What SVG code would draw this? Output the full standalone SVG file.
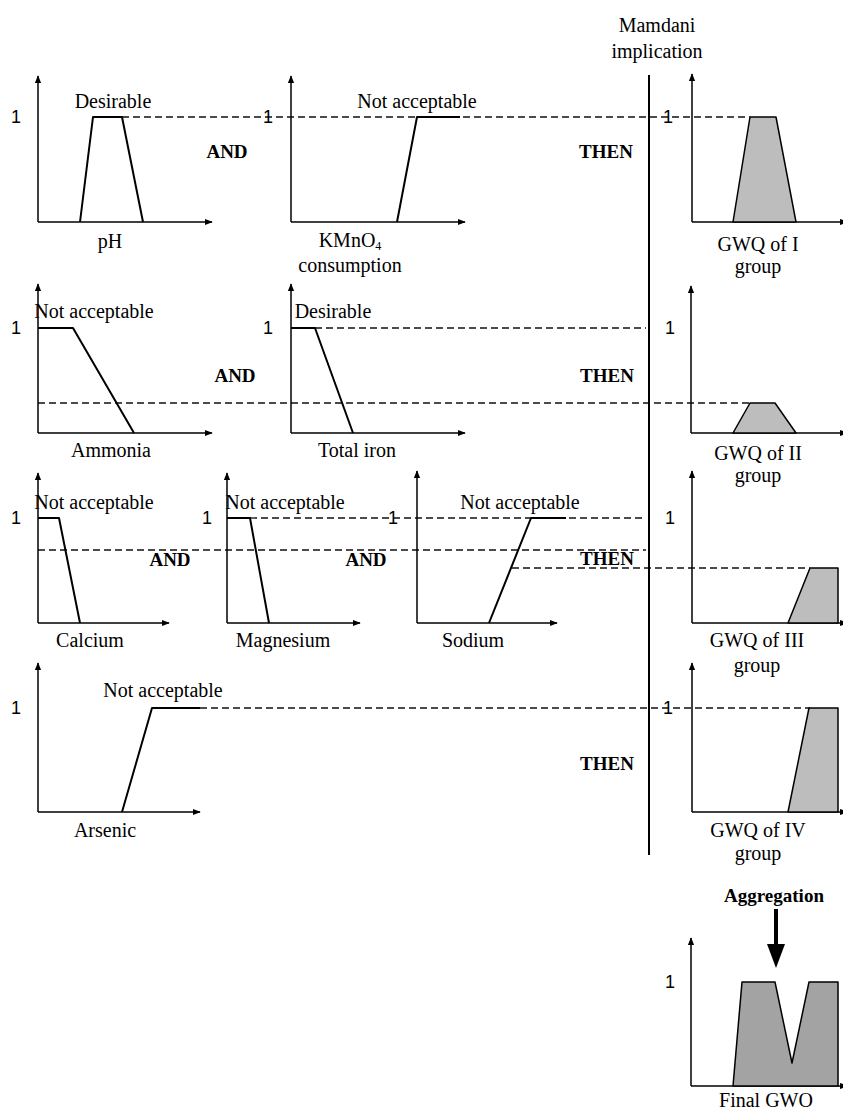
<svg xmlns="http://www.w3.org/2000/svg" width="843" height="1111" viewBox="0 0 843 1111">
<defs>
<marker id="ah" viewBox="0 0 10 10" refX="9" refY="5" markerWidth="8" markerHeight="8" markerUnits="userSpaceOnUse" orient="auto"><path d="M0,1 L10,5 L0,9 Z" fill="#000"/></marker>
</defs>
<style>
.ax{stroke:#000;stroke-width:1.5;fill:none;marker-end:url(#ah)}
.mf{stroke:#000;stroke-width:2;fill:none;stroke-linejoin:round}
.out{stroke:#000;stroke-width:1.5;fill:#bdbdbd;stroke-linejoin:round}
.fin{stroke:#000;stroke-width:1.5;fill:#a3a3a3;stroke-linejoin:round}
.dash{stroke:#111;stroke-width:1.3;stroke-dasharray:7,4;fill:none}
.t{font-family:"Liberation Serif","Times New Roman",serif;font-size:20px;fill:#000;text-anchor:middle}
.b{font-family:"Liberation Serif","Times New Roman",serif;font-size:19px;font-weight:bold;fill:#000;text-anchor:middle}
.one{font-family:"Liberation Sans",Arial,sans-serif;font-size:18px;fill:#000;text-anchor:middle}
</style>
<rect width="843" height="1111" fill="#fff"/>

<g id="connectors">
<line class="dash" x1="122" y1="117" x2="750" y2="117"/>
<line class="dash" x1="315" y1="328" x2="646" y2="328"/>
<line class="dash" x1="38" y1="403" x2="750" y2="403"/>
<line class="dash" x1="250" y1="518" x2="646" y2="518"/>
<line class="dash" x1="38" y1="550" x2="646" y2="550"/>
<line class="dash" x1="512" y1="568" x2="810" y2="568"/>
<line class="dash" x1="200" y1="708" x2="810" y2="708"/>
<line x1="649" y1="75" x2="649" y2="855" stroke="#000" stroke-width="2"/>
<path d="M774,909 L774,944 L767,944 L776,968 L785,944 L778,944 L778,909 Z" fill="#000"/>
</g>

<g id="header">
<text class="t" x="657" y="32">Mamdani</text>
<text class="t" x="657" y="58">implication</text>
</g>

<g id="ph">
<line class="ax" x1="38" y1="222" x2="38" y2="76"/>
<line class="ax" x1="38" y1="222" x2="212" y2="222"/>
<polyline class="mf" points="80,222 93,117 122,117 143,222"/>
<text class="one" x="16" y="123">1</text>
<text class="t" x="113" y="108">Desirable</text>
<text class="t" x="110" y="248">pH</text>
</g>
<text class="b" x="227" y="158">AND</text>

<g id="kmno4">
<line class="ax" x1="291" y1="222" x2="291" y2="76"/>
<line class="ax" x1="291" y1="222" x2="465" y2="222"/>
<polyline class="mf" points="397,222 417,117 460,117"/>
<text class="one" x="268" y="123">1</text>
<text class="t" x="417" y="108">Not acceptable</text>
<text class="t" x="350" y="247">KMnO<tspan font-size="12" dy="3">4</tspan></text>
<text class="t" x="350" y="272">consumption</text>
</g>
<text class="b" x="606" y="158">THEN</text>

<g id="gwq1">
<line class="ax" x1="692" y1="222" x2="692" y2="74"/>
<line class="ax" x1="692" y1="222" x2="847" y2="222"/>
<polygon class="out" points="733,222 750,117 776,117 796,222"/>
<text class="one" x="668" y="123">1</text>
<text class="t" x="758" y="251">GWQ of I</text>
<text class="t" x="758" y="273">group</text>
</g>

<g id="ammonia">
<line class="ax" x1="38" y1="433" x2="38" y2="284"/>
<line class="ax" x1="38" y1="433" x2="212" y2="433"/>
<polyline class="mf" points="38,328 73,328 134,433"/>
<text class="one" x="16" y="334">1</text>
<text class="t" x="94" y="318">Not acceptable</text>
<text class="t" x="111" y="457">Ammonia</text>
</g>
<text class="b" x="235" y="382">AND</text>

<g id="iron">
<line class="ax" x1="291" y1="433" x2="291" y2="284"/>
<line class="ax" x1="291" y1="433" x2="465" y2="433"/>
<polyline class="mf" points="291,328 315,328 353,433"/>
<text class="one" x="268" y="334">1</text>
<text class="t" x="333" y="318">Desirable</text>
<text class="t" x="357" y="457">Total iron</text>
</g>
<text class="b" x="607" y="382">THEN</text>

<g id="gwq2">
<line class="ax" x1="691" y1="433" x2="691" y2="286"/>
<line class="ax" x1="691" y1="433" x2="847" y2="433"/>
<polygon class="out" points="733,433 750,403 775,403 796,433"/>
<text class="one" x="670" y="334">1</text>
<text class="t" x="758" y="460">GWQ of II</text>
<text class="t" x="758" y="482">group</text>
</g>

<g id="calcium">
<line class="ax" x1="38" y1="623" x2="38" y2="473"/>
<line class="ax" x1="38" y1="623" x2="169" y2="623"/>
<polyline class="mf" points="38,518 59,518 80,623"/>
<text class="one" x="16" y="524">1</text>
<text class="t" x="94" y="509">Not acceptable</text>
<text class="t" x="90" y="647">Calcium</text>
</g>
<text class="b" x="170" y="566">AND</text>

<g id="magnesium">
<line class="ax" x1="227" y1="623" x2="227" y2="473"/>
<line class="ax" x1="227" y1="623" x2="360" y2="623"/>
<polyline class="mf" points="227,518 250,518 269,623"/>
<text class="one" x="207" y="524">1</text>
<text class="t" x="285" y="509">Not acceptable</text>
<text class="t" x="283" y="647">Magnesium</text>
</g>
<text class="b" x="366" y="566">AND</text>

<g id="sodium">
<line class="ax" x1="417" y1="623" x2="417" y2="471"/>
<line class="ax" x1="417" y1="623" x2="557" y2="623"/>
<polyline class="mf" points="489,623 531,518 566,518"/>
<text class="one" x="393" y="524">1</text>
<text class="t" x="520" y="509">Not acceptable</text>
<text class="t" x="473" y="647">Sodium</text>
</g>
<text class="b" x="607" y="565">THEN</text>

<g id="gwq3">
<line class="ax" x1="692" y1="623" x2="692" y2="471"/>
<line class="ax" x1="692" y1="623" x2="847" y2="623"/>
<polygon class="out" points="788,623 810,568 838,568 838,623"/>
<text class="one" x="670" y="524">1</text>
<text class="t" x="757" y="647">GWQ of III</text>
<text class="t" x="757" y="672">group</text>
</g>

<g id="arsenic">
<line class="ax" x1="38" y1="812" x2="38" y2="663"/>
<line class="ax" x1="38" y1="812" x2="200" y2="812"/>
<polyline class="mf" points="122,812 152,708 200,708"/>
<text class="one" x="16" y="714">1</text>
<text class="t" x="163" y="697">Not acceptable</text>
<text class="t" x="105" y="837">Arsenic</text>
</g>
<text class="b" x="607" y="770">THEN</text>

<g id="gwq4">
<line class="ax" x1="692" y1="812" x2="692" y2="663"/>
<line class="ax" x1="692" y1="812" x2="847" y2="812"/>
<polygon class="out" points="788,812 809,708 838,708 838,812"/>
<text class="one" x="668" y="714">1</text>
<text class="t" x="758" y="837">GWQ of IV</text>
<text class="t" x="758" y="860">group</text>
</g>

<g id="final">
<text class="b" x="774" y="902">Aggregation</text>
<line class="ax" x1="691" y1="1086" x2="691" y2="938"/>
<line class="ax" x1="691" y1="1086" x2="847" y2="1086"/>
<polygon class="fin" points="733,1086 742,982 775,982 792,1063 809,982 838,982 838,1086"/>
<text class="one" x="670" y="988">1</text>
<text class="t" x="766" y="1107">Final GWO</text>
</g>
</svg>
